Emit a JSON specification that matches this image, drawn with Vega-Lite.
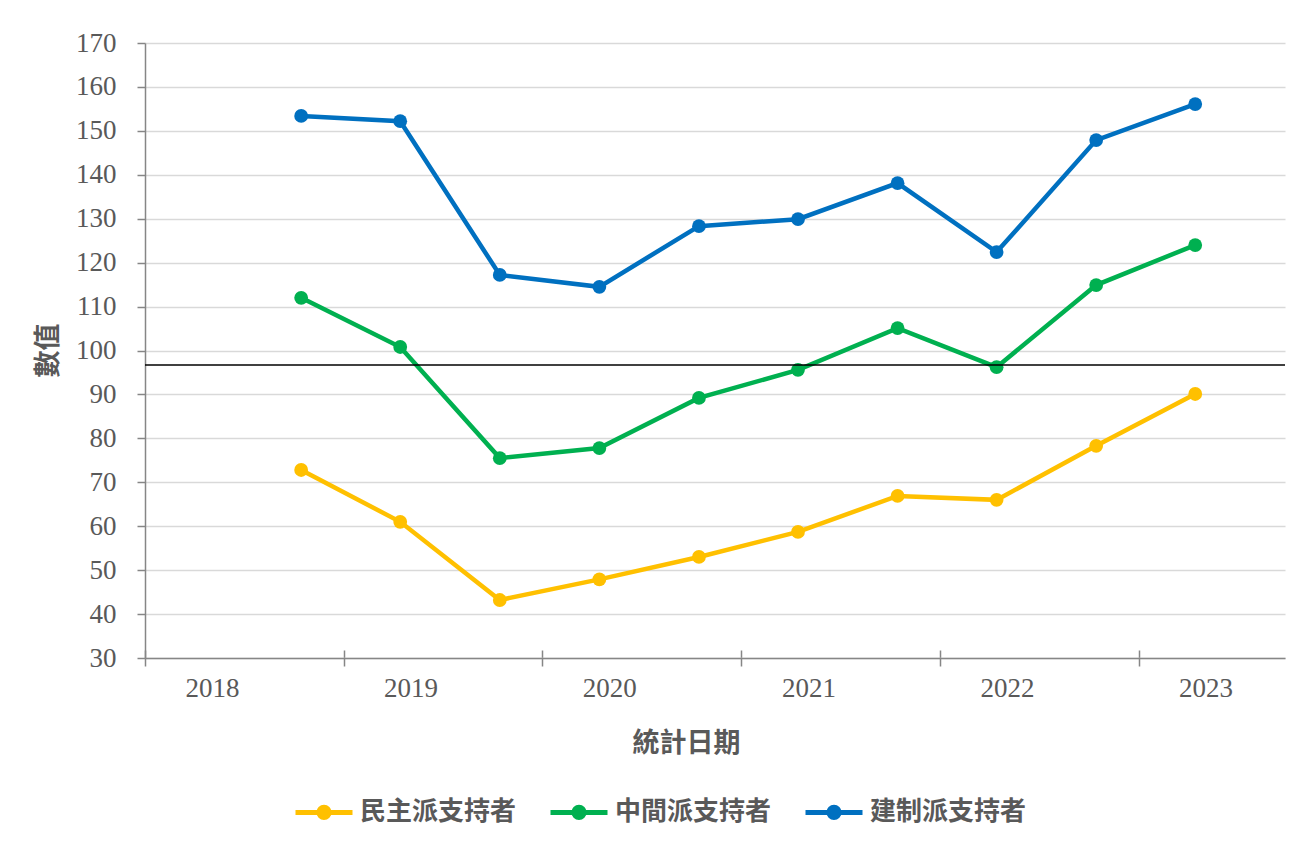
{
  "$schema": "https://vega.github.io/schema/vega-lite/v6.json",
  "description": "民主派、中間派、建制派支持者 數值",
  "width": 1140,
  "height": 615,
  "autosize": {"type": "none"},
  "padding": {"left": 145, "top": 43, "right": 15, "bottom": 185},
  "background": "white",
  "config": {
    "view": {"stroke": null},
    "axis": {
      "labelFont": "Liberation Serif",
      "labelFontSize": 27,
      "labelColor": "#595959",
      "domainColor": "#868686",
      "domainWidth": 1.5,
      "tickColor": "#868686",
      "tickWidth": 1.5,
      "tickSize": 8,
      "titleFont": "Noto Sans CJK TC",
      "titleFontSize": 27,
      "titleFontWeight": "bold",
      "titleColor": "#595959"
    }
  },
  "layer": [
    {
      "data": {
        "values": [
          {"date": "2018-10-15", "group": "民主派支持者", "value": 72.8},
          {"date": "2019-04-15", "group": "民主派支持者", "value": 61.0},
          {"date": "2019-10-15", "group": "民主派支持者", "value": 43.2},
          {"date": "2020-04-15", "group": "民主派支持者", "value": 47.9},
          {"date": "2020-10-15", "group": "民主派支持者", "value": 53.0},
          {"date": "2021-04-15", "group": "民主派支持者", "value": 58.7},
          {"date": "2021-10-15", "group": "民主派支持者", "value": 66.9},
          {"date": "2022-04-15", "group": "民主派支持者", "value": 66.0},
          {"date": "2022-10-15", "group": "民主派支持者", "value": 78.3},
          {"date": "2023-04-15", "group": "民主派支持者", "value": 90.1},
          {"date": "2018-10-15", "group": "中間派支持者", "value": 112.0},
          {"date": "2019-04-15", "group": "中間派支持者", "value": 100.8},
          {"date": "2019-10-15", "group": "中間派支持者", "value": 75.5},
          {"date": "2020-04-15", "group": "中間派支持者", "value": 77.8},
          {"date": "2020-10-15", "group": "中間派支持者", "value": 89.2},
          {"date": "2021-04-15", "group": "中間派支持者", "value": 95.6},
          {"date": "2021-10-15", "group": "中間派支持者", "value": 105.1},
          {"date": "2022-04-15", "group": "中間派支持者", "value": 96.2},
          {"date": "2022-10-15", "group": "中間派支持者", "value": 114.9},
          {"date": "2023-04-15", "group": "中間派支持者", "value": 124.0},
          {"date": "2018-10-15", "group": "建制派支持者", "value": 153.4},
          {"date": "2019-04-15", "group": "建制派支持者", "value": 152.2},
          {"date": "2019-10-15", "group": "建制派支持者", "value": 117.2},
          {"date": "2020-04-15", "group": "建制派支持者", "value": 114.5},
          {"date": "2020-10-15", "group": "建制派支持者", "value": 128.3},
          {"date": "2021-04-15", "group": "建制派支持者", "value": 129.9},
          {"date": "2021-10-15", "group": "建制派支持者", "value": 138.1},
          {"date": "2022-04-15", "group": "建制派支持者", "value": 122.4},
          {"date": "2022-10-15", "group": "建制派支持者", "value": 147.9},
          {"date": "2023-04-15", "group": "建制派支持者", "value": 156.1}
        ]
      },
      "mark": {
        "type": "line",
        "strokeWidth": 4.5,
        "point": {"filled": true, "size": 190, "opacity": 1}
      },
      "encoding": {
        "x": {
          "field": "date",
          "type": "temporal",
          "scale": {
            "type": "utc",
            "domain": [
              {"year": 2018, "month": 1, "date": 1, "utc": true},
              {"year": 2023, "month": 9, "date": 27, "utc": true}
            ]
          },
          "axis": {
            "title": "統計日期",
            "format": "%Y",
            "tickCount": {"interval": "year", "step": 1},
            "labelOffset": 67,
            "labelFlush": false,
            "labelOverlap": false,
            "labelPadding": 9,
            "grid": true,
            "gridColor": "#868686",
            "gridWidth": 1.5,
            "gridDash": [8, 607],
            "gridDashOffset": 8,
            "titleX": 541,
            "titleY": 85,
            "titleAlign": "center",
            "titleBaseline": "middle"
          }
        },
        "y": {
          "field": "value",
          "type": "quantitative",
          "scale": {"domain": [30, 170], "nice": false, "zero": false},
          "axis": {
            "title": "數值",
            "values": [30, 40, 50, 60, 70, 80, 90, 100, 110, 120, 130, 140, 150, 160, 170],
            "grid": true,
            "gridColor": "#d9d9d9",
            "gridWidth": 1.3,
            "gridDash": [],
            "gridDashOffset": 0,
            "labelPadding": 21,
            "titleX": -97,
            "titleY": 307,
            "titleAngle": -90,
            "titleAlign": "center",
            "titleBaseline": "middle"
          }
        },
        "color": {
          "field": "group",
          "type": "nominal",
          "scale": {
            "domain": ["民主派支持者", "中間派支持者", "建制派支持者"],
            "range": ["#FFC000", "#00B050", "#0070C0"]
          },
          "legend": {
            "title": null,
            "orient": "none",
            "direction": "horizontal",
            "legendX": 148,
            "legendY": 738,
            "symbolType": "M-1,0L1,0M0.18,0A0.18,0.18,0,1,1,-0.18,0A0.18,0.18,0,1,1,0.18,0Z",
            "symbolSize": 3249,
            "symbolStrokeWidth": 5,
            "labelFont": "Noto Sans CJK TC",
            "labelFontSize": 26,
            "labelFontWeight": "bold",
            "labelColor": "#595959",
            "labelOffset": 5,
            "columnPadding": 23,
            "encode": {
              "symbols": {
                "update": {
                  "fill": {"scale": "color", "field": "value"},
                  "stroke": {"scale": "color", "field": "value"},
                  "opacity": {"value": 1}
                }
              }
            }
          }
        }
      }
    },
    {
      "data": {"values": [{"level": 96.7}]},
      "mark": {"type": "rule", "color": "black", "strokeWidth": 1.5},
      "encoding": {
        "y": {"field": "level", "type": "quantitative"}
      }
    }
  ]
}
